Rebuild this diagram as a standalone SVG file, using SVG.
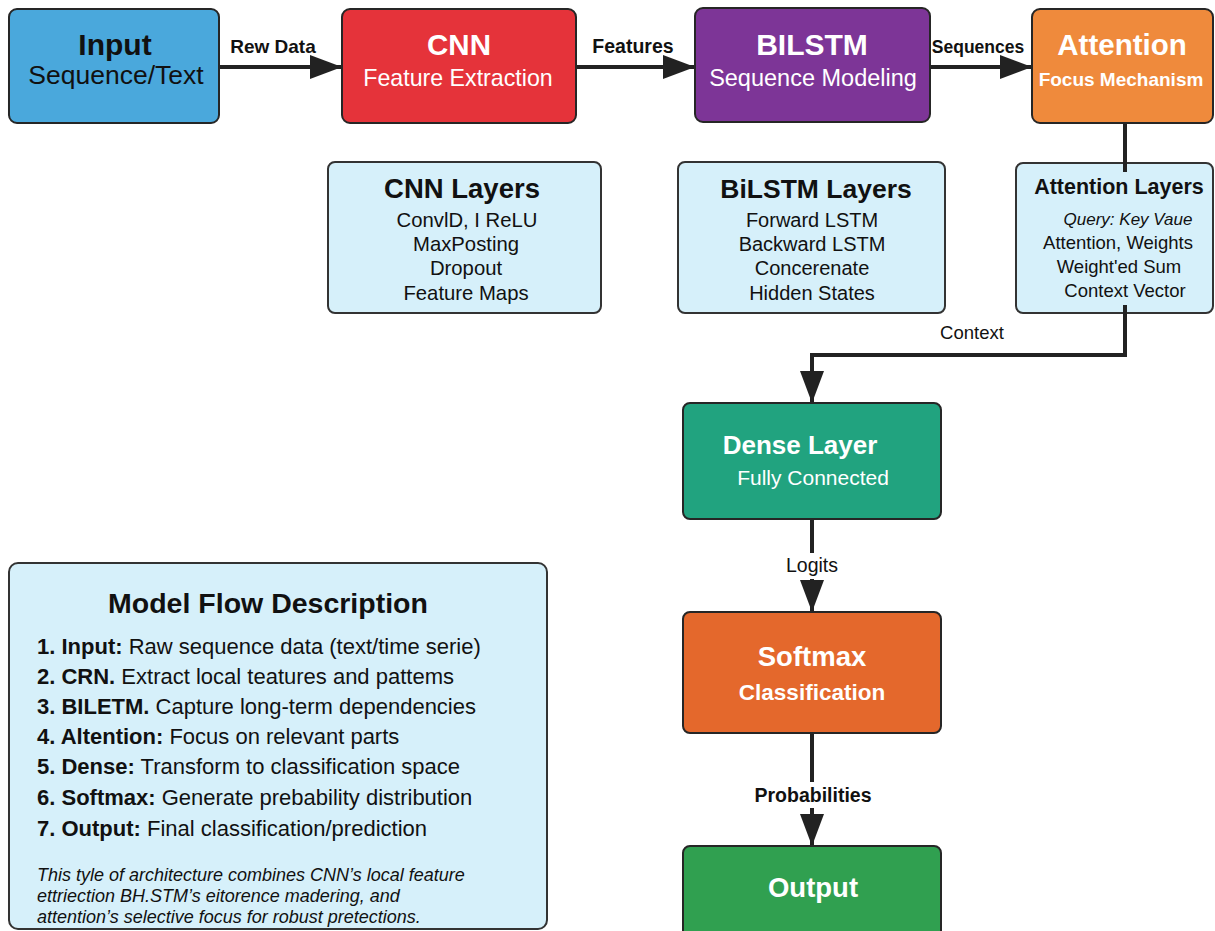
<svg xmlns="http://www.w3.org/2000/svg" width="1215" height="931" viewBox="0 0 1215 931">
<defs>
<style>
.box{stroke:#262626;stroke-width:2}
.light{fill:#d6f0fa;stroke:#333;stroke-width:2}
.t{font-family:"Liberation Sans",Arial,sans-serif;text-anchor:middle}
.b{font-weight:bold}
.w{fill:#fff}
.k{fill:#111}
.lbl{font-family:"Liberation Sans",Arial,sans-serif;text-anchor:middle;fill:#111}
.con{fill:none;stroke:#222;stroke-width:4}
.it{font-family:"Liberation Sans",Arial,sans-serif;fill:#111}
</style>
<marker id="ah" markerUnits="userSpaceOnUse" markerWidth="32" markerHeight="24" refX="32" refY="12" orient="auto">
<path d="M0,0 L32,12 L0,24 z" fill="#222"/>
</marker>
</defs>
<rect width="1215" height="931" fill="#fff"/>

<g id="connectors">
<line class="con" x1="219" y1="67" x2="342" y2="67" marker-end="url(#ah)"/>
<line class="con" x1="576" y1="67" x2="695" y2="67" marker-end="url(#ah)"/>
<line class="con" x1="930" y1="67" x2="1032" y2="67" marker-end="url(#ah)"/>
<line class="con" x1="1125" y1="123" x2="1125" y2="172"/>
<polyline class="con" points="1125,305 1125,355 812,355 812,403" marker-end="url(#ah)"/>
<line class="con" x1="812" y1="519" x2="812" y2="612" marker-end="url(#ah)"/>
<line class="con" x1="812" y1="733" x2="812" y2="846" marker-end="url(#ah)"/>
<text class="lbl b" x="273" y="53" font-size="19">Rew Data</text>
<text class="lbl b" x="633" y="53" font-size="19.5">Features</text>
<text class="lbl b" x="978" y="53" font-size="17.5">Sequences</text>
<rect x="930" y="320" width="84" height="26" fill="#fff"/>
<text class="lbl" x="972" y="339" font-size="18.5">Context</text>
<rect x="776" y="553" width="72" height="26" fill="#fff"/>
<text class="lbl" x="812" y="572" font-size="19.5">Logits</text>
<rect x="748" y="782" width="128" height="26" fill="#fff"/>
<text class="lbl b" x="813" y="802" font-size="19.5">Probabilities</text>
</g>

<g id="input">
<rect class="box" x="9" y="9" width="210" height="114" rx="8" fill="#4aa8dc"/>
<text class="t b k" x="115" y="55" font-size="30">Input</text>
<text class="t k" x="116" y="84" font-size="26.5">Sequence/Text</text>
</g>

<g id="cnn">
<rect class="box" x="342" y="9" width="234" height="114" rx="8" fill="#e5333a"/>
<text class="t b w" x="459" y="55" font-size="29.5">CNN</text>
<text class="t w" x="458" y="86" font-size="23.2">Feature Extraction</text>
</g>

<g id="bilstm">
<rect class="box" x="695" y="8" width="235" height="114" rx="8" fill="#7d3597"/>
<text class="t b w" x="812" y="55" font-size="30">BILSTM</text>
<text class="t w" x="813" y="86" font-size="23.5">Sequence Modeling</text>
</g>

<g id="attention">
<rect class="box" x="1032" y="9" width="181" height="114" rx="8" fill="#ef8a3c"/>
<text class="t b w" x="1122" y="55" font-size="29.5">Attention</text>
<text class="t b w" x="1121" y="86" font-size="19">Focus Mechanism</text>
</g>

<g id="cnn-layers">
<rect class="light" x="328" y="162" width="273" height="151" rx="7"/>
<text class="t b k" x="462" y="198" font-size="27.5">CNN Layers</text>
<text class="t k" x="467" y="227" font-size="20.3">ConvlD, I ReLU</text>
<text class="t k" x="466" y="251" font-size="20.3">MaxPosting</text>
<text class="t k" x="466" y="275" font-size="20.3">Dropout</text>
<text class="t k" x="466" y="300" font-size="20.3">Feature Maps</text>
</g>

<g id="bilstm-layers">
<rect class="light" x="678" y="162" width="267" height="151" rx="7"/>
<text class="t b k" x="816" y="198" font-size="26.5">BiLSTM Layers</text>
<text class="t k" x="812" y="227" font-size="20">Forward LSTM</text>
<text class="t k" x="812" y="251" font-size="20">Backward LSTM</text>
<text class="t k" x="812" y="275" font-size="20">Concerenate</text>
<text class="t k" x="812" y="300" font-size="20">Hidden States</text>
</g>

<g id="attention-layers">
<rect class="light" x="1016" y="163" width="197" height="150" rx="7"/>
<line class="con" x1="1125" y1="160" x2="1125" y2="172"/>
<text class="t b k" x="1119" y="194" font-size="21.5">Attention Layers</text>
<text class="t k" x="1128" y="225" font-size="17" font-style="italic">Query: Key Vaue</text>
<text class="t k" x="1118" y="249" font-size="18.5">Attention, Weights</text>
<text class="t k" x="1119" y="273" font-size="18.5">Weight'ed Sum</text>
<text class="t k" x="1125" y="297" font-size="18.5">Context Vector</text>
<line class="con" x1="1125" y1="305" x2="1125" y2="316"/>
</g>

<g id="dense">
<rect class="box" x="683" y="403" width="258" height="116" rx="7" fill="#21a37f"/>
<text class="t b w" x="800" y="454" font-size="26">Dense Layer</text>
<text class="t w" x="813" y="485" font-size="21">Fully Connected</text>
</g>

<g id="softmax">
<rect class="box" x="683" y="612" width="258" height="121" rx="7" fill="#e4682c"/>
<text class="t b w" x="812" y="666" font-size="27.5">Softmax</text>
<text class="t b w" x="812" y="700" font-size="22.5">Classification</text>
</g>

<g id="output">
<rect class="box" x="683" y="846" width="258" height="95" rx="7" fill="#30a050"/>
<text class="t b w" x="813" y="897" font-size="27.5">Output</text>
</g>

<g id="description">
<rect class="light" x="9" y="563" width="538" height="366" rx="9"/>
<text class="t b k" x="268" y="613" font-size="28.5">Model Flow Description</text>
<text class="it" x="37" y="654" font-size="22"><tspan font-weight="bold">1. Input:</tspan> Raw sequence data (text/time serie)</text>
<text class="it" x="37" y="684" font-size="22"><tspan font-weight="bold">2. CRN.</tspan> Extract local teatures and pattems</text>
<text class="it" x="37" y="714" font-size="22"><tspan font-weight="bold">3. BILETM.</tspan> Capture long-term dependencies</text>
<text class="it" x="37" y="744" font-size="22"><tspan font-weight="bold">4. Altention:</tspan> Focus on relevant parts</text>
<text class="it" x="37" y="774" font-size="22"><tspan font-weight="bold">5. Dense:</tspan> Transform to classification space</text>
<text class="it" x="37" y="805" font-size="22"><tspan font-weight="bold">6. Softmax:</tspan> Generate prebability distribution</text>
<text class="it" x="37" y="836" font-size="22"><tspan font-weight="bold">7. Output:</tspan> Final classification/prediction</text>
<text class="it" x="37" y="881" font-size="18" font-style="italic">This tyle of architecture combines CNN’s local feature</text>
<text class="it" x="37" y="902" font-size="18" font-style="italic">ettriection BH.STM’s eitorence madering, and</text>
<text class="it" x="37" y="923" font-size="18" font-style="italic">attention’s selective focus for robust pretections.</text>
</g>
</svg>
